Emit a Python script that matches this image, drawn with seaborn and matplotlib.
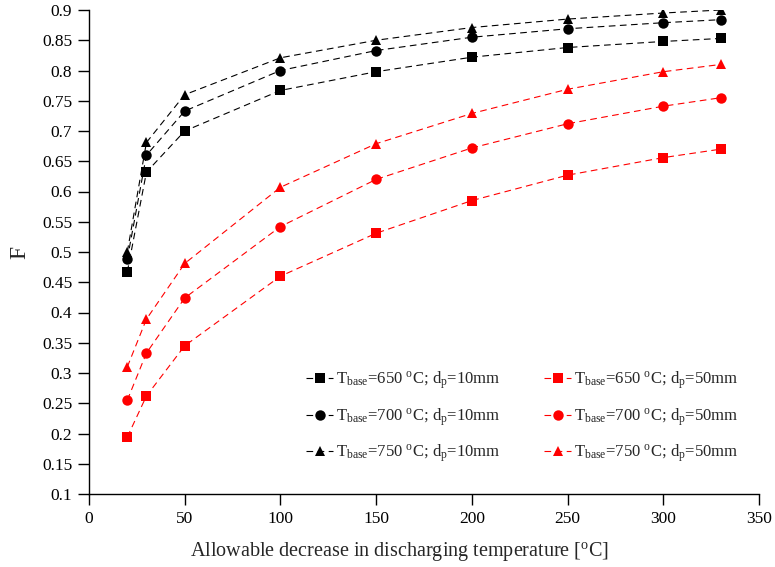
import numpy as np
import pandas as pd
import matplotlib
matplotlib.use("Agg")
import matplotlib.pyplot as plt
import seaborn as sns

x_vals = [20, 30, 50, 100, 150, 200, 250, 300, 330]
f_650_10 = [0.467, 0.632, 0.700, 0.767, 0.798, 0.822, 0.838, 0.848, 0.853]
f_700_10 = [0.488, 0.660, 0.733, 0.800, 0.833, 0.855, 0.869, 0.879, 0.884]
f_750_10 = [0.500, 0.681, 0.760, 0.821, 0.850, 0.871, 0.885, 0.895, 0.900]
f_650_50 = [0.194, 0.262, 0.345, 0.460, 0.531, 0.585, 0.627, 0.656, 0.670]
f_700_50 = [0.255, 0.333, 0.424, 0.542, 0.620, 0.672, 0.712, 0.741, 0.755]
f_750_50 = [0.310, 0.389, 0.481, 0.607, 0.679, 0.729, 0.769, 0.798, 0.810]

labels = [
    r'T$_{\rm base}$=650 $^{\rm o}$C; d$_{\rm p}$=10mm',
    r'T$_{\rm base}$=700 $^{\rm o}$C; d$_{\rm p}$=10mm',
    r'T$_{\rm base}$=750 $^{\rm o}$C; d$_{\rm p}$=10mm',
    r'T$_{\rm base}$=650 $^{\rm o}$C; d$_{\rm p}$=50mm',
    r'T$_{\rm base}$=700 $^{\rm o}$C; d$_{\rm p}$=50mm',
    r'T$_{\rm base}$=750 $^{\rm o}$C; d$_{\rm p}$=50mm',
]
series = [f_650_10, f_700_10, f_750_10, f_650_50, f_700_50, f_750_50]
colors = ['black', 'black', 'black', 'red', 'red', 'red']
markers = ['s', 'o', '^', 's', 'o', '^']

sns.set_theme(style="ticks")
plt.rcParams['font.family'] = ['Liberation Serif', 'DejaVu Serif']
plt.rcParams['mathtext.fontset'] = 'custom'
plt.rcParams['mathtext.rm'] = 'Liberation Serif'
plt.rcParams['mathtext.it'] = 'Liberation Serif:italic'

fig = plt.figure(figsize=(7.75, 5.67), dpi=100)
ax = fig.add_axes([89/775, 1-494/567, (759-89)/775, (494-10)/567])

for ys, lab, c, m in zip(series, labels, colors, markers):
    df = pd.DataFrame({'x': x_vals, 'y': ys})
    sns.lineplot(data=df, x='x', y='y', ax=ax, color=c, marker=m,
                 markersize=7.5, markeredgewidth=0, linewidth=0.8,
                 linestyle=(0, (6, 4)), label=lab)

ax.set_xlim(0, 350)
ax.set_ylim(0.1, 0.9)
ax.set_xticks(np.arange(0, 351, 50))
ax.set_yticks(np.arange(0.1, 0.901, 0.05))
ax.set_yticklabels(['%g' % round(v, 2) for v in np.arange(0.1, 0.901, 0.05)])
ax.tick_params(labelsize=12.5, length=8, width=1, direction='out', colors='black', pad=4)
for s in ['top', 'right']:
    ax.spines[s].set_visible(False)
for s in ['left', 'bottom']:
    ax.spines[s].set_linewidth(1)
    ax.spines[s].set_color('black')
ax.set_xlabel(r'Allowable decrease in discharging temperature [$^{\rm o}$C]', fontsize=14.5)
ax.xaxis.set_label_coords((399-89)/670, (494-540)/484)
ax.set_ylabel('F', fontsize=17)
ax.yaxis.set_label_coords((30-89)/670, 0.5)

handles, labs = ax.get_legend_handles_labels()
leg = ax.legend(handles, labs, ncol=2, loc='lower right', bbox_to_anchor=(0.992, 0.03),
                frameon=False, fontsize=12, handlelength=1.6, handletextpad=0.2,
                columnspacing=2.6, labelspacing=0.9)

fig.savefig('out.png', dpi=100)
